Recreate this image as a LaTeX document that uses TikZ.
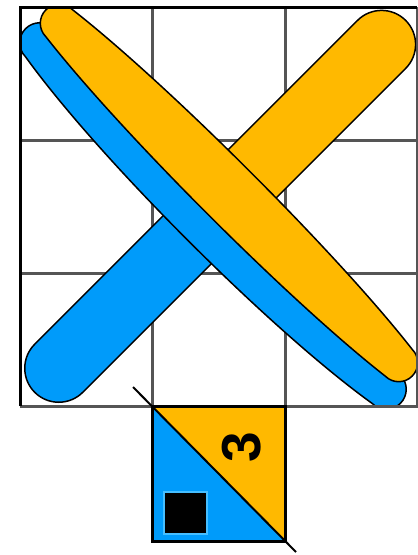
\documentclass[tikz,border=0pt]{standalone}
\usepackage{fontspec}
\newfontfamily\digitfont{Liberation Sans}
\usetikzlibrary{positioning}

\definecolor{barblue}{RGB}{0,155,250}
\definecolor{baryellow}{RGB}{255,185,0}
\definecolor{gridgray}{RGB}{85,85,85}
\definecolor{lightblue}{RGB}{70,190,255}

% lens shaped bar: #1 half length to cap centre, #2 cap radius, #3 half width in the middle
\newcommand{\lensbar}[3]{%
  (-#1,#2) .. controls ({-#1/2},{#2+4/3*(#3-#2)}) and ({#1/2},{#2+4/3*(#3-#2)}) .. (#1,#2)
  arc[start angle=90,end angle=-90,radius=#2]
  .. controls ({#1/2},{-#2-4/3*(#3-#2)}) and ({-#1/2},{-#2-4/3*(#3-#2)}) .. (-#1,-#2)
  arc[start angle=270,end angle=90,radius=#2] -- cycle}

\begin{document}
\begin{tikzpicture}[x=1pt,y=-1pt,
    gridline/.style={draw=gridgray,line width=3pt},
    bluebar/.style={fill=barblue,draw=black,line width=1.5pt},
    yellowbar/.style={fill=baryellow,draw=black,line width=1.5pt}]
  \useasboundingbox (0,0) rectangle (418,555);

  % 3x3 grid
  \foreach \x in {152.5,285} \draw[gridline] (\x,7) -- (\x,406);
  \foreach \y in {140,273} \draw[gridline] (20,\y) -- (417,\y);

  % the bars, cut at the frame
  \begin{scope}
    \clip (20,7) rectangle (417,406);
    % short bars: upper right and lower left
    \begin{scope}[shift={(313,113)},rotate=45]
      \path[yellowbar] \lensbar{97}{34}{34};
    \end{scope}
    \begin{scope}[shift={(133,294)},rotate=45]
      \path[bluebar] \lensbar{105}{34}{34};
    \end{scope}
    % long bars
    \begin{scope}[shift={(213,216)},rotate=-45]
      \path[bluebar] \lensbar{245}{20}{35};
    \end{scope}
    \begin{scope}[shift={(229,193)},rotate=-45]
      \path[yellowbar] \lensbar{240}{19}{30};
    \end{scope}
  \end{scope}

  % frame
  \draw[gridline] (417,7) -- (417,406) -- (20,406);
  \draw[line width=3pt] (20,406) -- (20,7) -- (417,7);

  % small square below the middle column
  \fill[barblue] (152.5,406) -- (152.5,541) -- (285,541) -- cycle;
  \fill[baryellow] (152.5,406) -- (285,406) -- (285,541) -- cycle;
  \draw[fill=black,draw=lightblue,line width=2pt] (164,492) rectangle (207,534);
  \node[rotate=90,inner sep=0pt,font=\digitfont\bfseries\fontsize{55}{55}\selectfont] (three) at (242,447) {3};
  \draw[line width=3pt] (152.5,406) rectangle (285,541);
  \coordinate (diagA) at (133,387);
  \coordinate (diagB) at (296,552);
  \draw[line width=2pt] (diagA) -- (diagB);
\end{tikzpicture}
\end{document}
